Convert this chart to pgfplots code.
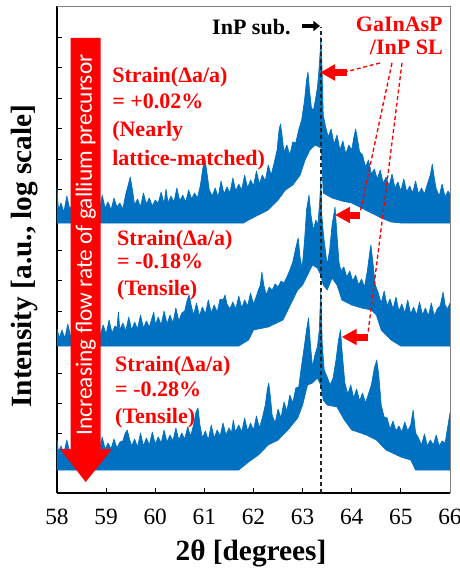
\documentclass[border=0pt]{standalone}
\usepackage{fontspec}
\setmainfont{Liberation Serif}
\newfontfamily\calibri{Carlito}
\usepackage{pgfplots}
\pgfplotsset{compat=1.18}
\usetikzlibrary{arrows.meta}
\definecolor{xblue}{RGB}{0,112,192}
\definecolor{xred}{RGB}{255,0,0}
\begin{document}
\begin{tikzpicture}[x=1pt,y=1pt]
\begin{axis}[
  at={(0pt,0pt)}, anchor=south west,
  width=294.75pt, height=365.25pt, scale only axis,
  xmin=58, xmax=66, ymin=0, ymax=487,
  clip=false,
  axis lines*=left,
  axis line style={-, line width=1.2pt, black},
  xtick={58,59,60,61,62,63,64,65,66},
  xticklabel={\textrm{\pgfmathprintnumber[assume math mode=true]{\tick}}},
  ytick={60,90,120,182,213,243,304,334,365,395,426,456},
  yticklabel=\empty,
  tick align=inside,
  major tick length=3.5pt,
  tick style={black, line width=0.6pt},
  xticklabel style={font=\fontsize{17.5}{17.5}\selectfont\rmfamily, anchor=base, yshift=-23.25pt},
]
% top curve (+0.02%)
\addplot[draw=xblue, fill=xblue, line width=0.5pt, line join=round] coordinates {
(58.00,305)(58.03,283)(58.08,290)(58.14,281)(58.20,297)(58.26,284)(58.32,289)(58.38,282)(58.44,293)(58.50,285)(58.56,300)(58.62,283)(58.68,288)(58.74,284)(58.80,292)(58.86,282)(58.92,298)(58.98,285)(59.04,291)(59.10,283)(59.16,295)(59.22,286)(59.28,290)(59.34,284)(59.40,299)(59.45,308)(59.49,316)(59.53,305)(59.58,288)(59.64,294)(59.70,286)(59.76,300)(59.82,289)(59.88,295)(59.94,287)(60.00,293)(60.06,290)(60.12,301)(60.18,289)(60.22,304)(60.26,290)(60.32,297)(60.38,291)(60.44,305)(60.50,292)(60.56,298)(60.62,291)(60.68,303)(60.74,294)(60.80,300)(60.86,295)(60.92,308)(60.97,325)(61.01,335)(61.05,321)(61.10,303)(61.16,297)(61.22,305)(61.28,296)(61.34,312)(61.40,299)(61.46,306)(61.52,300)(61.58,315)(61.64,302)(61.70,309)(61.76,303)(61.82,318)(61.88,305)(61.94,313)(62.00,307)(62.06,322)(62.12,309)(62.18,318)(62.24,312)(62.30,328)(62.36,318)(62.42,330)(62.48,343)(62.52,363)(62.55,369)(62.58,358)(62.62,341)(62.68,348)(62.74,338)(62.80,351)(62.86,350)(62.92,363)(62.98,373)(63.04,393)(63.08,413)(63.11,421)(63.14,403)(63.18,385)(63.22,383)(63.26,393)(63.30,405)(63.33,421)(63.36,443)(63.37,456)(63.39,433)(63.42,378)(63.46,368)(63.52,356)(63.58,364)(63.64,349)(63.70,358)(63.76,343)(63.82,352)(63.88,339)(63.94,348)(64.00,343)(64.04,355)(64.08,364)(64.12,353)(64.16,341)(64.22,338)(64.28,326)(64.34,333)(64.40,319)(64.46,324)(64.52,314)(64.58,323)(64.64,310)(64.70,316)(64.76,307)(64.82,319)(64.88,305)(64.94,311)(65.00,302)(65.06,314)(65.12,301)(65.18,307)(65.24,300)(65.30,312)(65.36,299)(65.42,305)(65.48,299)(65.54,309)(65.60,318)(65.64,329)(65.68,315)(65.72,304)(65.78,297)(65.84,309)(65.90,296)(65.96,302)(66.00,299)
(66.00,270)(65.00,270)(64.80,271)(64.60,275)(64.40,280)(64.20,285)(64.00,290)(63.80,292)(63.60,295)(63.42,300)(63.38,345)(63.25,348)(63.15,343)(63.05,333)(62.95,318)(62.80,308)(62.65,303)(62.50,293)(62.30,283)(62.10,278)(61.90,273)(61.80,270)(58.00,270)
};
% middle curve (-0.18%)
\addplot[draw=xblue, fill=xblue, line width=0.5pt, line join=round] coordinates {
(58.00,164)(58.05,155)(58.10,163)(58.16,155)(58.22,169)(58.28,156)(58.34,162)(58.40,155)(58.46,167)(58.52,157)(58.58,164)(58.64,157)(58.70,171)(58.76,158)(58.82,165)(58.88,158)(58.94,168)(59.00,159)(59.06,173)(59.12,160)(59.18,167)(59.22,165)(59.25,181)(59.28,163)(59.34,170)(59.40,162)(59.46,176)(59.52,163)(59.58,171)(59.64,164)(59.70,178)(59.76,165)(59.82,172)(59.88,166)(59.94,176)(59.97,181)(60.00,168)(60.06,176)(60.12,168)(60.18,182)(60.24,169)(60.30,178)(60.36,170)(60.42,185)(60.48,172)(60.54,180)(60.60,182)(60.65,193)(60.69,198)(60.73,188)(60.78,178)(60.84,190)(60.90,177)(60.96,186)(61.02,179)(61.08,193)(61.14,180)(61.20,188)(61.26,181)(61.32,194)(61.38,193)(61.42,198)(61.46,189)(61.52,184)(61.58,191)(61.64,184)(61.70,197)(61.76,185)(61.82,193)(61.88,187)(61.94,200)(62.00,189)(62.06,197)(62.10,203)(62.14,208)(62.17,221)(62.21,208)(62.26,198)(62.32,206)(62.38,203)(62.44,209)(62.50,206)(62.56,212)(62.62,210)(62.68,216)(62.74,223)(62.80,231)(62.86,245)(62.91,255)(62.95,235)(62.99,225)(63.04,253)(63.08,283)(63.13,298)(63.17,278)(63.22,263)(63.27,273)(63.31,268)(63.35,293)(63.37,313)(63.39,278)(63.43,256)(63.50,228)(63.55,243)(63.60,268)(63.66,286)(63.70,258)(63.74,231)(63.78,222)(63.84,226)(63.90,216)(63.96,222)(64.02,212)(64.08,218)(64.14,208)(64.20,214)(64.26,206)(64.32,223)(64.36,238)(64.39,248)(64.43,231)(64.48,208)(64.54,200)(64.60,190)(64.66,202)(64.72,187)(64.78,194)(64.84,184)(64.90,196)(64.96,182)(65.02,189)(65.08,180)(65.14,193)(65.20,179)(65.26,186)(65.32,178)(65.38,191)(65.44,178)(65.50,185)(65.56,177)(65.62,190)(65.68,177)(65.74,184)(65.80,187)(65.86,201)(65.90,188)(65.95,184)(66.00,190)
(66.00,147)(65.00,147)(64.80,153)(64.60,163)(64.50,178)(64.40,183)(64.20,185)(64.00,188)(63.80,193)(63.70,208)(63.60,215)(63.50,203)(63.42,208)(63.37,218)(63.30,225)(63.20,228)(63.10,218)(63.00,208)(62.90,203)(62.80,193)(62.60,173)(62.30,166)(62.00,163)(61.90,153)(61.70,147)(58.00,147)
};
% bottom curve (-0.28%)
\addplot[draw=xblue, fill=xblue, line width=0.5pt, line join=round] coordinates {
(58.00,53)(58.03,41)(58.08,47)(58.14,40)(58.20,53)(58.26,41)(58.32,46)(58.38,40)(58.44,50)(58.50,41)(58.56,55)(58.62,42)(58.68,48)(58.74,42)(58.80,51)(58.86,43)(58.92,56)(58.98,44)(59.04,50)(59.10,44)(59.16,54)(59.22,45)(59.28,51)(59.34,52)(59.39,60)(59.43,63)(59.47,55)(59.52,47)(59.58,54)(59.64,46)(59.70,60)(59.76,47)(59.82,55)(59.88,48)(59.94,61)(60.00,49)(60.06,56)(60.12,50)(60.18,63)(60.24,51)(60.30,58)(60.36,52)(60.42,65)(60.48,53)(60.54,60)(60.60,54)(60.66,66)(60.72,57)(60.78,68)(60.83,81)(60.87,85)(60.91,68)(60.96,55)(61.02,62)(61.08,53)(61.14,68)(61.20,55)(61.26,63)(61.32,57)(61.38,70)(61.44,58)(61.50,65)(61.55,60)(61.59,73)(61.63,61)(61.70,68)(61.76,61)(61.82,75)(61.88,62)(61.94,70)(62.00,63)(62.06,77)(62.12,65)(62.18,75)(62.24,88)(62.28,103)(62.31,110)(62.34,98)(62.38,78)(62.44,70)(62.50,84)(62.56,75)(62.62,91)(62.68,82)(62.74,98)(62.80,90)(62.86,105)(62.92,106)(62.98,128)(63.03,145)(63.08,163)(63.12,175)(63.16,148)(63.20,126)(63.25,138)(63.30,146)(63.34,163)(63.37,203)(63.40,148)(63.44,123)(63.50,116)(63.56,108)(63.62,115)(63.68,133)(63.73,153)(63.77,163)(63.81,138)(63.86,110)(63.92,99)(63.98,108)(64.04,95)(64.10,104)(64.16,92)(64.22,100)(64.28,90)(64.34,99)(64.40,108)(64.46,125)(64.51,133)(64.55,118)(64.60,88)(64.66,76)(64.72,75)(64.78,64)(64.84,72)(64.90,62)(64.96,67)(65.02,61)(65.08,71)(65.14,62)(65.20,68)(65.25,83)(65.30,60)(65.36,55)(65.42,48)(65.48,59)(65.54,47)(65.60,53)(65.66,48)(65.72,58)(65.78,47)(65.84,52)(65.90,50)(65.95,65)(66.00,80)
(66.00,23)(65.30,23)(65.20,33)(65.00,36)(64.70,43)(64.50,53)(64.30,58)(64.00,63)(63.85,73)(63.70,86)(63.50,88)(63.42,93)(63.37,108)(63.30,115)(63.20,110)(63.10,108)(63.00,88)(62.90,75)(62.70,63)(62.50,53)(62.30,48)(62.10,38)(61.90,31)(61.70,23)(58.00,23)
};
% substrate dashed line
\draw[black!85, line width=1.1pt, dash pattern=on 3pt off 2.2pt] (axis cs:63.37,0) -- (axis cs:63.37,466);
% right/top frame
\draw[gray, line width=0.6pt] (rel axis cs:0,1) -- (rel axis cs:1,1) -- (rel axis cs:1,0);
% big red arrow
\fill[xred] (axis cs:58.278,455) -- (axis cs:58.889,455) -- (axis cs:58.889,44) -- (axis cs:59.12,44) -- (axis cs:58.584,11) -- (axis cs:58.061,44) -- (axis cs:58.278,44) -- cycle;
\node[rotate=90, text=white, font=\calibri\fontsize{17.5}{17.5}\selectfont] at (axis cs:58.584,248) {Increasing flow rate of gallium precursor};
% labels
\begin{scope}[every node/.style={font=\fontsize{16.5}{16.5}\selectfont\bfseries, text=xred, inner sep=0pt}]
\node[anchor=base west] at (axis cs:59.12,411) {Strain(Δa/a)};
\node[anchor=base west] at (axis cs:59.12,384) {= +0.02\%};
\node[anchor=base west] at (axis cs:59.12,356) {(Nearly};
\node[anchor=base west] at (axis cs:59.12,328) {lattice-matched)};
\node[anchor=base west] at (axis cs:59.22,247.5) {Strain(Δa/a)};
\node[anchor=base west] at (axis cs:59.22,224) {= -0.18\%};
\node[anchor=base west] at (axis cs:59.22,197.5) {(Tensile)};
\node[anchor=base west] at (axis cs:59.18,122) {Strain(Δa/a)};
\node[anchor=base west] at (axis cs:59.18,97) {= -0.28\%};
\node[anchor=base west] at (axis cs:59.18,70) {(Tensile)};
\node[anchor=base east] at (axis cs:65.857,461) {GaInAsP};
\node[anchor=base east] at (axis cs:65.857,438) {/InP SL};
\node[anchor=base west, text=black] at (axis cs:61.155,458) {InP sub.};
\end{scope}
\draw[black, line width=3pt, -{Triangle[length=5pt,width=7.5pt]}] (axis cs:62.987,467) -- (axis cs:63.354,467);
% red dashed leaders
\draw[xred, line width=1pt, dash pattern=on 3pt off 2pt] (axis cs:64.575,430) -- (axis cs:63.863,421);
\draw[xred, line width=1pt, dash pattern=on 3pt off 2pt] (axis cs:64.819,430) -- (axis cs:64.168,280);
\draw[xred, line width=1pt, dash pattern=on 3pt off 2pt] (axis cs:65.023,430) -- (axis cs:64.331,160);
% red arrows
\draw[xred, line width=5.25pt, -{Triangle[length=11.25pt,width=11.5pt]}] (axis cs:63.903,420.5) -- (axis cs:63.354,420.5);
\draw[xred, line width=5.25pt, -{Triangle[length=11.25pt,width=11.5pt]}] (axis cs:64.168,278) -- (axis cs:63.659,278);
\draw[xred, line width=5.25pt, -{Triangle[length=11.25pt,width=11.5pt]}] (axis cs:64.331,156) -- (axis cs:63.795,156);
\end{axis}
\node[font=\fontsize{22}{22}\selectfont\bfseries, anchor=base] at (145.5,-50.25) {2θ [degrees]};
\node[font=\fontsize{22}{22}\selectfont\bfseries, anchor=base, rotate=90] at (-18.75,177.75) {Intensity [a.u., log scale]};
\pgfresetboundingbox
\path[use as bounding box] (-42.75,-57) rectangle (302.25,369.75);
\end{tikzpicture}
\end{document}
